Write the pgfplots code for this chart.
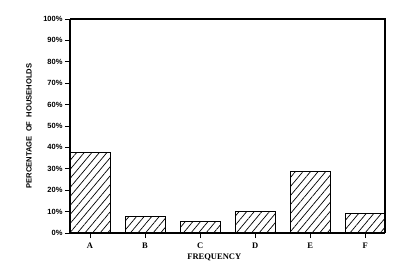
\documentclass[border=0pt]{standalone}
\usepackage{pgfplots}
\pgfplotsset{compat=1.18}
\usepackage{fontspec}
\setmainfont{Liberation Serif}
\newfontfamily\tickfont{Liberation Sans}
\usetikzlibrary{patterns.meta}
\begin{document}
\begin{tikzpicture}[x=1pt,y=1pt]
\useasboundingbox (0,0) rectangle (400,271);
\begin{axis}[
  at={(70pt,38pt)}, anchor=south west,
  scale only axis, width=315pt, height=214pt,
  xmin=-0.364, xmax=5.36, ymin=0, ymax=100,
  axis line style={line width=1.3pt},
  axis x line*=bottom, axis y line*=left,
  xtick={0,1,2,3,4,5},
  xticklabels={A,B,C,D,E,F},
  xtick align=outside, ytick align=outside,
  major tick length=5pt,
  tick style={line width=0.8pt, black},
  ytick={0,10,...,100},
  yticklabel={\pgfmathprintnumber{\tick}\%},
  /pgf/number format/assume math mode=true,
  yticklabel style={font=\tickfont\bfseries\fontsize{7.5}{7.5}\selectfont, xshift=1pt},
  xticklabel style={font=\bfseries\fontsize{8.5}{8.5}\selectfont, yshift=-1pt},
  xlabel={FREQUENCY},
  xlabel style={font=\bfseries\fontsize{8.5}{8.5}\selectfont, at={(axis description cs:0.458,0)}, anchor=center, yshift=-24pt},
  ylabel={PERCENTAGE\ \ OF\ \ HOUSEHOLDS},
  ylabel style={font=\tickfont\bfseries\fontsize{7.6}{7.6}\selectfont, at={(axis description cs:-0.13,0.5)}, anchor=center},
  ybar, bar width=40pt, bar shift=0pt,
  clip=false,
]
\addplot[draw=black, line width=1pt,
  pattern={Lines[angle=50, distance=5.8pt, line width=0.7pt]}]
  coordinates {(0,37.7) (1,7.6) (2,5.6) (3,10.1) (4,28.6) (5,8.9)};
\draw[line width=1.3pt] (axis cs:-0.364,100) -- (axis cs:5.36,100) -- (axis cs:5.36,0);
\end{axis}
\end{tikzpicture}
\end{document}
